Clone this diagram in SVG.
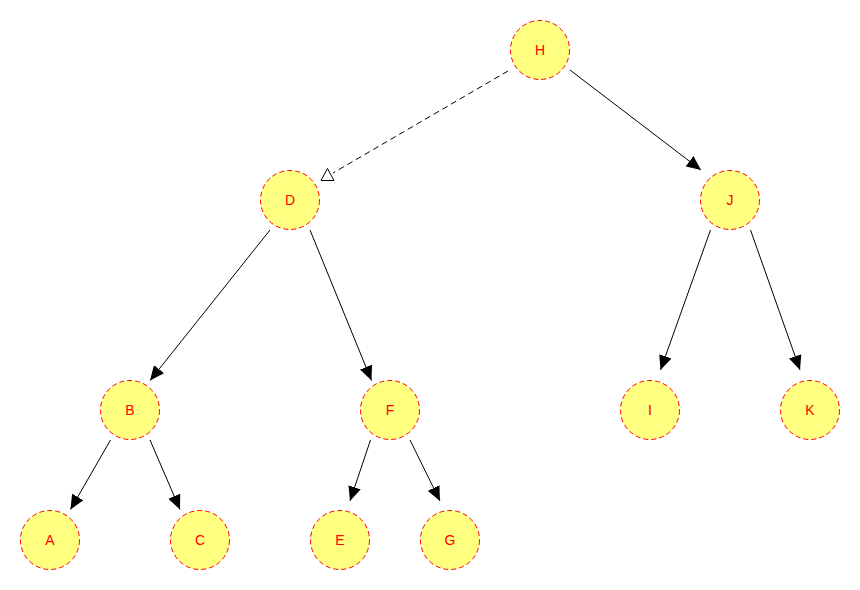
<svg xmlns="http://www.w3.org/2000/svg" width="860" height="590" viewBox="0 0 860 590">
  <style>
    .node circle { fill: #ffff80; stroke: #ff0000; stroke-width: 1; stroke-dasharray: 5 3; }
    .node text { font-family: "Liberation Sans", Arial, sans-serif; font-size: 14px; fill: #ff0000; text-anchor: middle; }
    .edge { stroke: #000000; stroke-width: 1; fill: none; }
    .edge.arrow { marker-end: url(#arrow); }
    .edge.dashed { stroke-dasharray: 6 4; }
    .hollow { fill: #ffffff; stroke: #000000; stroke-width: 1; }
  </style>
  <defs>
    <marker id="arrow" markerUnits="userSpaceOnUse" markerWidth="15" markerHeight="13" refX="14.5" refY="6.5" orient="auto" viewBox="0 0 15 13">
      <path d="M0,0 L14.5,6.5 L0,13 z" fill="#000000"/>
    </marker>
  </defs>
  <rect width="860" height="590" fill="#ffffff"/>

  <g id="connectors">
    <line class="edge dashed" x1="508" y1="71" x2="333" y2="173"/>
    <polygon class="hollow" points="321,180.5 334,180.5 327.5,168.5"/>
    <line class="edge arrow" x1="570" y1="70" x2="701" y2="170"/>
    <line class="edge arrow" x1="270" y1="230" x2="150" y2="380.5"/>
    <line class="edge arrow" x1="310" y1="230" x2="371.5" y2="380.5"/>
    <line class="edge arrow" x1="710.5" y1="230" x2="660.5" y2="370"/>
    <line class="edge arrow" x1="750.5" y1="230" x2="800" y2="370"/>
    <line class="edge arrow" x1="110.5" y1="440" x2="70.5" y2="509.5"/>
    <line class="edge arrow" x1="150" y1="440" x2="180" y2="509.5"/>
    <line class="edge arrow" x1="370.5" y1="440" x2="350" y2="501"/>
    <line class="edge arrow" x1="410" y1="440" x2="440" y2="501"/>
  </g>

  <g id="node-H" class="node"><circle cx="540" cy="50" r="29.5"/><text x="540" y="55">H</text></g>
  <g id="node-D" class="node"><circle cx="290" cy="200" r="29.5"/><text x="290" y="205">D</text></g>
  <g id="node-J" class="node"><circle cx="730" cy="200" r="29.5"/><text x="730" y="205">J</text></g>
  <g id="node-B" class="node"><circle cx="130" cy="410" r="29.5"/><text x="130" y="415">B</text></g>
  <g id="node-F" class="node"><circle cx="390" cy="410" r="29.5"/><text x="390" y="415">F</text></g>
  <g id="node-I" class="node"><circle cx="650" cy="410" r="29.5"/><text x="650" y="415">I</text></g>
  <g id="node-K" class="node"><circle cx="810" cy="410" r="29.5"/><text x="810" y="415">K</text></g>
  <g id="node-A" class="node"><circle cx="50" cy="540" r="29.5"/><text x="50" y="545">A</text></g>
  <g id="node-C" class="node"><circle cx="200" cy="540" r="29.5"/><text x="200" y="545">C</text></g>
  <g id="node-E" class="node"><circle cx="340" cy="540" r="29.5"/><text x="340" y="545">E</text></g>
  <g id="node-G" class="node"><circle cx="450" cy="540" r="29.5"/><text x="450" y="545">G</text></g>
</svg>
